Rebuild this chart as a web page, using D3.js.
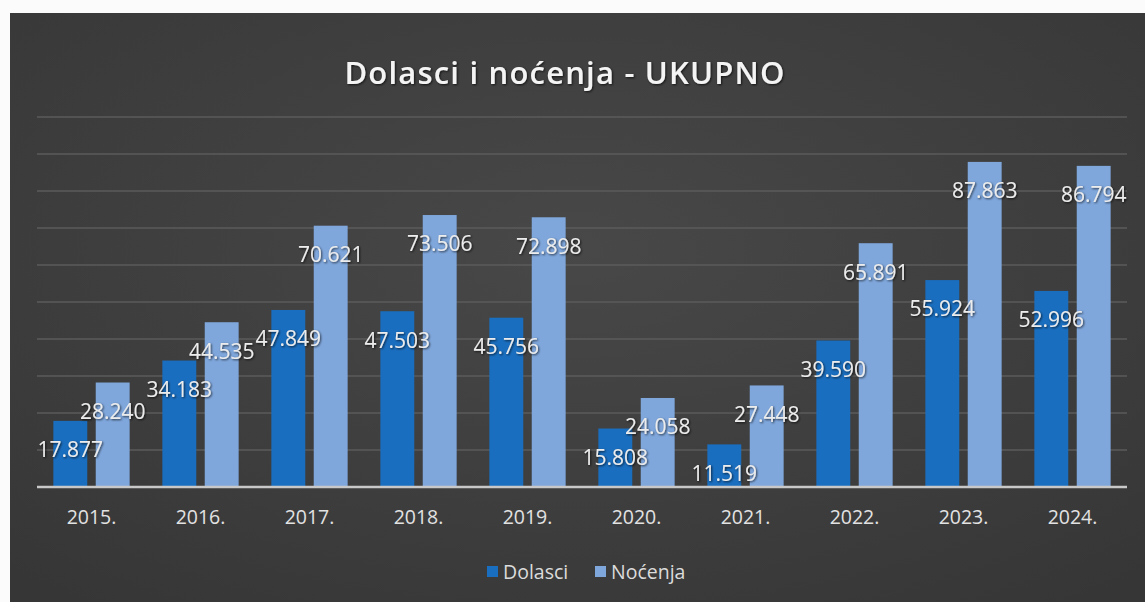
<!DOCTYPE html>
<html>
<head>
<meta charset="utf-8">
<script src="https://cdn.jsdelivr.net/npm/d3@7"></script>
<style>
  html, body { margin: 0; padding: 0; background: #fbfbfb; }
  svg { display: block; }
</style>
</head>
<body>
<svg id="chart"></svg>
<script>
// Chart data
const years = ["2015.", "2016.", "2017.", "2018.", "2019.", "2020.", "2021.", "2022.", "2023.", "2024."];
const seriesNames = ["Dolasci", "Noćenja"];
const dolasci = [17877, 34183, 47849, 47503, 45756, 15808, 11519, 39590, 55924, 52996];
const nocenja = [28240, 44535, 70621, 73506, 72898, 24058, 27448, 65891, 87863, 86794];
const yTicks = [0, 10000, 20000, 30000, 40000, 50000, 60000, 70000, 80000, 90000, 100000];

const width = 1145;
const height = 602;
const colors = { "Dolasci": "#1a6ebf", "Noćenja": "#7fa7dc" };

const svg = d3.select("#chart")
  .attr("width", width)
  .attr("height", height);

const defs = svg.append("defs");

// dark panel with a soft vignette
const grad = defs.append("radialGradient")
  .attr("id", "bg")
  .attr("cx", "50%").attr("cy", "40%").attr("r", "75%");
grad.append("stop").attr("offset", "0%").attr("stop-color", "#484848");
grad.append("stop").attr("offset", "100%").attr("stop-color", "#363636");

const shadow = defs.append("filter").attr("id", "shadow")
  .attr("x", "-20%").attr("y", "-40%").attr("width", "140%").attr("height", "180%");
shadow.append("feDropShadow")
  .attr("dx", 1).attr("dy", 1).attr("stdDeviation", 1.2)
  .attr("flood-color", "#000").attr("flood-opacity", 0.7);

svg.append("rect")
  .attr("x", 10).attr("y", 13)
  .attr("width", width - 10).attr("height", height - 13)
  .attr("fill", "url(#bg)");

// scales
const x0 = d3.scaleBand()
  .domain(years)
  .range([37, 1127])
  .paddingInner(0.3)
  .paddingOuter(0.15);

const x1 = d3.scaleBand()
  .domain(seriesNames)
  .range([0, x0.bandwidth()])
  .paddingInner(0.2);

const y = d3.scaleLinear()
  .domain([0, 100000])
  .range([487, 117]);

// gridlines
svg.append("g")
  .selectAll("line")
  .data(yTicks.slice(1))
  .join("line")
  .attr("x1", 37).attr("x2", 1127)
  .attr("y1", d => y(d)).attr("y2", d => y(d))
  .attr("stroke", "#5b5b5b")
  .attr("stroke-width", 1.5);

// bars
const rows = years.map((yr, i) => ({
  year: yr,
  values: [
    { key: "Dolasci", value: dolasci[i] },
    { key: "Noćenja", value: nocenja[i] }
  ]
}));

const groups = svg.append("g")
  .selectAll("g")
  .data(rows)
  .join("g")
  .attr("transform", d => `translate(${x0(d.year)},0)`);

groups.selectAll("rect")
  .data(d => d.values)
  .join("rect")
  .attr("x", d => x1(d.key))
  .attr("y", d => y(d.value))
  .attr("width", x1.bandwidth())
  .attr("height", d => y(0) - y(d.value))
  .attr("fill", d => colors[d.key]);

// baseline
svg.append("line")
  .attr("x1", 37).attr("x2", 1127)
  .attr("y1", y(0)).attr("y2", y(0))
  .attr("stroke", "#c8c8c8")
  .attr("stroke-width", 2.5);

// value labels (inside end of each bar)
groups.selectAll("text")
  .data(d => d.values)
  .join("text")
  .attr("x", d => x1(d.key) + x1.bandwidth() / 2)
  .attr("y", d => y(d.value) + 29)
  .attr("dy", "0.35em")
  .attr("text-anchor", "middle")
  .attr("font-family", "'Open Sans', sans-serif")
  .attr("font-size", 21)
  .attr("fill", "#ececec")
  .attr("filter", "url(#shadow)")
  .text(d => d3.format(",")(d.value).replace(/,/g, "."));

// x axis labels
const xAxis = d3.axisBottom(x0).tickSize(0).tickPadding(0);
const xg = svg.append("g")
  .attr("transform", `translate(0,${y(0)})`)
  .call(xAxis);
xg.select(".domain").remove();
xg.selectAll("text")
  .attr("y", 30)
  .attr("dy", "0.35em")
  .attr("font-family", "'Open Sans', sans-serif")
  .attr("font-size", 19.5)
  .attr("fill", "#e2e2e2");

// title
svg.append("text")
  .attr("x", 565)
  .attr("y", 73)
  .attr("dy", "0.35em")
  .attr("text-anchor", "middle")
  .attr("font-family", "'Open Sans', sans-serif")
  .attr("font-weight", 600)
  .attr("font-size", 31)
  .attr("letter-spacing", 1.2)
  .attr("fill", "#f4f4f4")
  .attr("filter", "url(#shadow)")
  .text("Dolasci i noćenja - UKUPNO");

// legend
const legendX = [487, 595];
const legend = svg.append("g")
  .selectAll("g")
  .data(seriesNames)
  .join("g")
  .attr("transform", (d, i) => `translate(${legendX[i]},572)`);

legend.append("rect")
  .attr("x", 0).attr("y", -6)
  .attr("width", 11).attr("height", 11)
  .attr("fill", d => colors[d]);

legend.append("text")
  .attr("x", 16)
  .attr("dy", "0.35em")
  .attr("font-family", "'Open Sans', sans-serif")
  .attr("font-size", 19.5)
  .attr("fill", "#dcdcdc")
  .text(d => d);
</script>
</body>
</html>
